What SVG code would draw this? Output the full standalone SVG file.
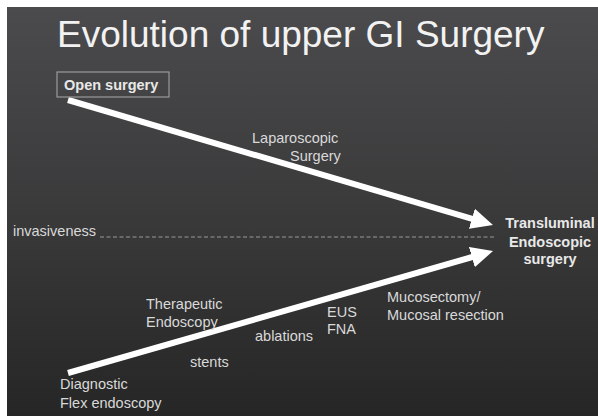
<svg xmlns="http://www.w3.org/2000/svg" width="598" height="416" viewBox="0 0 598 416">
<defs>
<linearGradient id="bg" x1="0" y1="0" x2="0" y2="1">
<stop offset="0" stop-color="#4b4b4d"/>
<stop offset="0.5" stop-color="#3a3a3b"/>
<stop offset="1" stop-color="#262626"/>
</linearGradient>
<marker id="ah" markerUnits="userSpaceOnUse" markerWidth="24" markerHeight="22" refX="4" refY="10.5" orient="auto">
<path d="M0,0 L22,10.5 L0,21 Z" fill="#ffffff"/>
</marker>
<style>
.lbl{font-family:"Liberation Sans",Arial,sans-serif;font-size:14.5px;fill:#d9d9d9}
.bold{font-family:"Liberation Sans",Arial,sans-serif;font-size:14.5px;font-weight:bold;fill:#e8e8e8}
.title{font-family:"Liberation Sans",Arial,sans-serif;font-size:37px;fill:#f2f2f2}
.arrow{stroke:#ffffff;stroke-width:6;fill:none;marker-end:url(#ah)}
</style>
</defs>
<rect x="0" y="0" width="598" height="416" fill="#ffffff"/>
<rect x="7" y="7" width="591" height="409" fill="url(#bg)"/>
<text class="title" x="57" y="47">Evolution of upper GI Surgery</text>
<g id="connectors">
<line x1="100" y1="237" x2="495" y2="237" stroke="#9a9a9a" stroke-width="1" stroke-dasharray="4,2.5"/>
<line class="arrow" x1="68" y1="100" x2="475.7" y2="219.9"/>
<line class="arrow" x1="68" y1="373" x2="475.7" y2="256"/>
</g>
<g id="open-surgery">
<rect x="57" y="72" width="112" height="25" fill="none" stroke="#9a9a9a" stroke-width="1.2"/>
<text class="bold" x="64" y="90">Open surgery</text>
</g>
<g id="laparoscopic">
<text class="lbl" x="252" y="143">Laparoscopic</text>
<text class="lbl" x="290" y="161">Surgery</text>
</g>
<g id="invasiveness">
<text class="lbl" x="13" y="236">invasiveness</text>
</g>
<g id="transluminal">
<text class="bold" x="550" y="228" text-anchor="middle">Transluminal</text>
<text class="bold" x="550" y="247" text-anchor="middle">Endoscopic</text>
<text class="bold" x="550" y="264" text-anchor="middle">surgery</text>
</g>
<g id="therapeutic">
<text class="lbl" x="146" y="309">Therapeutic</text>
<text class="lbl" x="146" y="327">Endoscopy</text>
</g>
<g id="stents">
<text class="lbl" x="190" y="367">stents</text>
</g>
<g id="ablations">
<text class="lbl" x="255" y="341">ablations</text>
</g>
<g id="eus-fna">
<text class="lbl" x="327" y="317">EUS</text>
<text class="lbl" x="327" y="334">FNA</text>
</g>
<g id="mucosectomy">
<text class="lbl" x="387" y="302">Mucosectomy/</text>
<text class="lbl" x="387" y="320">Mucosal resection</text>
</g>
<g id="diagnostic">
<text class="lbl" x="60" y="389">Diagnostic</text>
<text class="lbl" x="60" y="408">Flex endoscopy</text>
</g>
</svg>
